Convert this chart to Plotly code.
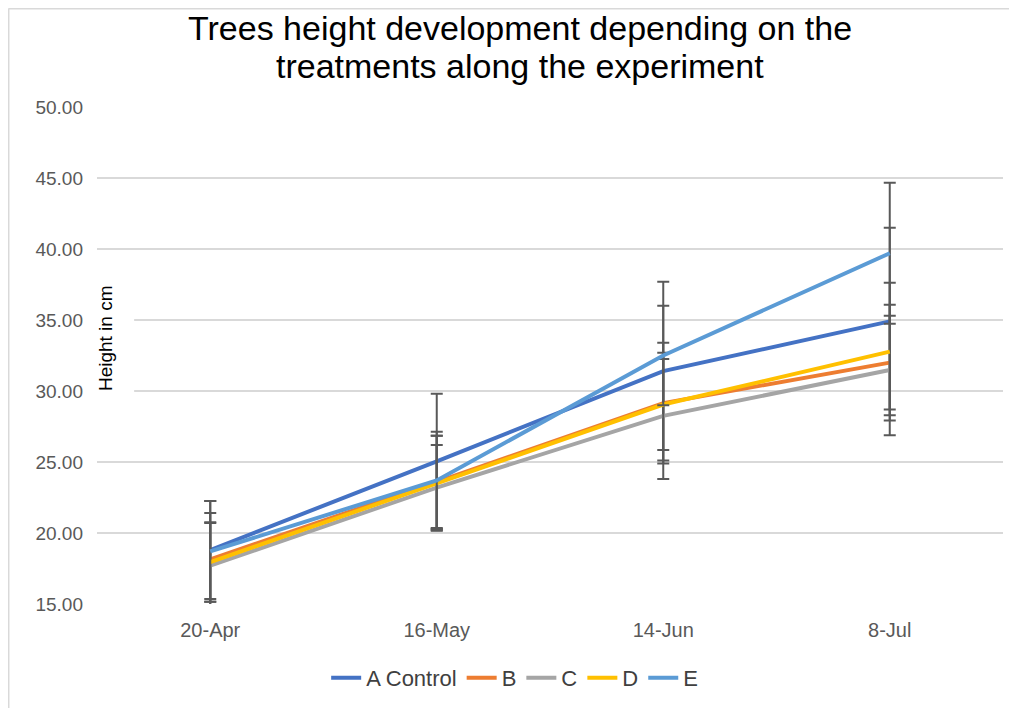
import plotly.graph_objects as go

dates = ["20-Apr", "16-May", "14-Jun", "8-Jul"]
series_names = ["A Control", "B", "C", "D", "E"]
colors = ["#4472C4", "#ED7D31", "#A5A5A5", "#FFC000", "#5B9BD5"]

a_control = [18.80, 25.05, 31.40, 34.90]
b_vals = [18.15, 23.60, 29.15, 32.00]
c_vals = [17.70, 23.20, 28.25, 31.48]
d_vals = [17.95, 23.50, 29.05, 32.77]
e_vals = [18.70, 23.70, 32.50, 39.70]

a_err = [3.45, 4.75, 6.30, 6.60]
b_err = [3.25, 3.25, 4.25, 3.30]
c_err = [3.00, 3.00, 4.45, 4.60]
d_err = [2.80, 3.35, 3.20, 4.85]
e_err = [3.55, 3.43, 3.50, 4.97]

title_lines = ["Trees height development depending on the",
               "treatments along the experiment"]

values = [a_control, b_vals, c_vals, d_vals, e_vals]
errors = [a_err, b_err, c_err, d_err, e_err]

FONT = "Liberation Sans, Arial, sans-serif"

fig = go.Figure()
for name, col, v, err in zip(series_names, colors, values, errors):
    fig.add_trace(go.Scatter(
        x=dates, y=v, name=name, mode="lines",
        line=dict(color=col, width=4),
        error_y=dict(type="data", array=err, visible=True,
                     color="#595959", thickness=2, width=6),
        cliponaxis=False,
    ))

annotations = []
for line_text, ypos in zip(title_lines, [1.159, 1.0825]):
    annotations.append(dict(
        text=line_text, xref="paper", yref="paper", x=0.467, y=ypos,
        xanchor="center", yanchor="middle", showarrow=False,
        font=dict(size=34, color="#000000", family=FONT),
    ))
annotations.append(dict(
    text="Height in cm", xref="paper", yref="paper", x=0.0088, y=0.535,
    xanchor="center", yanchor="middle", textangle=-90, showarrow=False,
    font=dict(size=19, color="#000000", family=FONT),
))

fig.update_layout(
    width=1017, height=708,
    paper_bgcolor="white", plot_bgcolor="white",
    font=dict(family=FONT, color="#595959"),
    margin=dict(l=89, r=22, t=99, b=112),
    xaxis=dict(
        type="category", range=[-0.5, 3.5], showgrid=False, zeroline=False,
        showline=False, ticks="", tickfont=dict(size=20, color="#595959"),
        ticklabelstandoff=12,
    ),
    yaxis=dict(
        range=[15, 50], dtick=5, tickformat=".2f",
        showgrid=True, gridcolor="#D9D9D9", gridwidth=1.5,
        zeroline=False, showline=False, ticks="",
        tickfont=dict(size=19, color="#595959"), ticklabelstandoff=13,
    ),
    legend=dict(
        orientation="h", x=0.461, xanchor="center", y=-0.149, yanchor="middle",
        font=dict(size=22, color="#404040"), itemwidth=30,
    ),
    showlegend=True,
    annotations=annotations,
    shapes=[
        dict(type="rect", xref="paper", yref="paper", x0=0, x1=0.041,
             y0=0.406, y1=0.676, fillcolor="white", line=dict(width=0), layer="above"),
        dict(type="line", xref="paper", yref="paper", x0=-0.0977, x1=1.05,
             y0=1.198, y1=1.198, line=dict(color="#D9D9D9", width=2)),
        dict(type="line", xref="paper", yref="paper", x0=-0.0977, x1=-0.0977,
             y0=1.198, y1=-0.25, line=dict(color="#D9D9D9", width=2)),
    ],
)

fig.write_html("out.html")
